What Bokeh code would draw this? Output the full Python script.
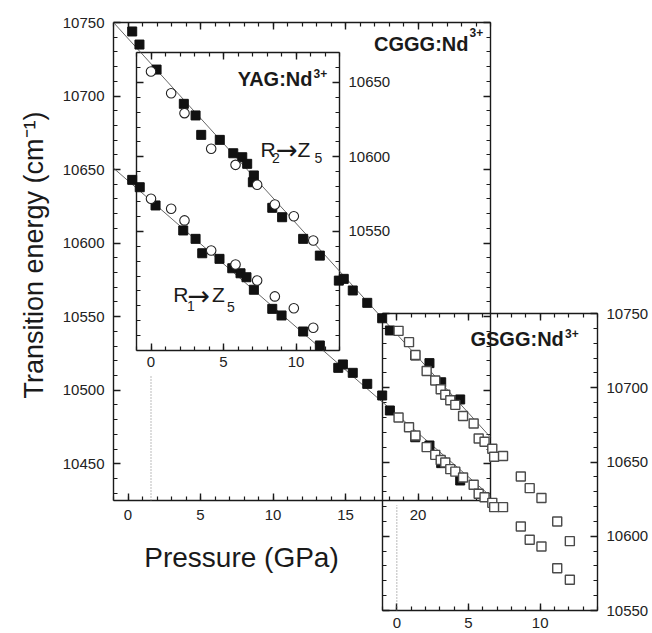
import math
from bokeh.plotting import figure
from bokeh.models import Range1d, LinearAxis, FixedTicker, Label
from bokeh.embed import file_html
from bokeh.resources import INLINE

# ---------------- data ----------------
# CGGG:Nd3+ (main plot, filled squares)
cggg_p_r2 = [0.29, 0.79, 1.97, 3.85, 4.66, 5.05, 6.33, 7.26, 7.88, 8.22, 8.68, 8.61,
             9.95, 10.63, 12.08, 13.23, 14.54, 14.88, 15.50, 16.50, 17.53, 18.06,
             19.81, 20.79, 21.60, 22.91]
cggg_e_r2 = [10743.9, 10735.0, 10718.0, 10694.7, 10686.8, 10673.6, 10670.2, 10661.1,
             10658.4, 10653.9, 10646.0, 10641.4, 10624.0, 10617.6, 10602.9, 10591.5,
             10574.5, 10575.7, 10567.8, 10559.4, 10548.9, 10540.6, 10523.6, 10518.4,
             10505.4, 10493.7]
cggg_p_r1 = [0.29, 0.81, 1.90, 3.81, 4.66, 5.12, 6.31, 7.19, 7.76, 8.17, 8.68, 9.95,
             10.59, 12.08, 13.23, 14.50, 14.82, 15.50, 16.50, 17.53, 18.06, 19.81,
             20.79, 21.60, 22.91]
cggg_e_r1 = [10643.0, 10638.0, 10625.6, 10608.6, 10602.9, 10593.1, 10589.3, 10582.9,
             10579.5, 10576.8, 10568.3, 10555.3, 10550.8, 10539.9, 10530.4, 10515.2,
             10517.5, 10511.8, 10504.3, 10496.4, 10486.2, 10468.0, 10462.4, 10450.4,
             10438.6]
fit_p = [-1, 25]
fit_r2 = [10750, 10468]
fit_r1 = [10651, 10428]

# YAG:Nd3+ (upper-left inset, open circles)
yag_p = [0.0, 1.39, 2.31, 4.15, 5.83, 7.32, 8.54, 9.85, 11.19]
yag_e_r2 = [10657.2, 10642.7, 10629.3, 10605.4, 10594.6, 10581.2, 10568.0, 10560.1, 10543.8]
yag_e_r1 = [10571.8, 10565.1, 10557.3, 10537.1, 10527.7, 10517.0, 10506.3, 10498.4, 10485.3]

# GSGG:Nd3+ (lower-right inset, open squares)
gsgg_p = [0.12, 0.85, 1.30, 2.08, 2.68, 3.06, 3.38, 3.73, 4.08, 4.62, 5.36, 5.71,
          6.12, 6.66, 6.79, 7.41, 8.65, 9.27, 10.09, 11.19, 12.07]
gsgg_e_r2 = [10738.3, 10730.7, 10722.1, 10711.3, 10704.9, 10699.0, 10695.3, 10691.6,
             10688.5, 10681.0, 10675.9, 10665.8, 10663.6, 10658.9, 10653.5, 10654.0,
             10640.2, 10632.4, 10625.8, 10609.9, 10596.7]
gsgg_e_r1 = [10680.0, 10673.4, 10667.8, 10660.0, 10654.8, 10651.3, 10649.7, 10645.2,
             10643.5, 10639.6, 10634.7, 10628.6, 10626.3, 10622.5, 10619.6, 10619.6,
             10606.6, 10597.6, 10593.1, 10578.5, 10570.7]

# tick values
main_x_ticks = [0, 5, 10, 15, 20]
main_y_ticks = [10450, 10500, 10550, 10600, 10650, 10700, 10750]
yag_x_ticks = [0, 5, 10]
yag_y_ticks = [10550, 10600, 10650]
gsgg_x_ticks = [0, 5, 10]
gsgg_y_ticks = [10550, 10600, 10650, 10700, 10750]

# ---------------- layout helpers ----------------
FONT = "Liberation Sans"
INK = "#1a1a1a"
W, H = 652, 633
# the plot frame fills the whole canvas (pixels from top-left)
L, R, T, B = 0, W, 0, H


def span(v0, p0, v1, p1, lo, hi):
    k = (v1 - v0) / (p1 - p0)
    return Range1d(start=v0 + (lo - p0) * k, end=v0 + (hi - p0) * k)


main_x = span(-1, 113, 25, 490, L, R)
main_y = span(10425, 500, 10750, 22, B, T)
yag_x = span(-1, 136, 13, 339, L, R)
yag_y = span(10470, 350, 10670, 52, B, T)
gs_x = span(-1, 382, 14, 597, L, R)
gs_y = span(10550, 610, 10750, 313, B, T)


def mx(px):
    return main_x.start + (px - L) * (main_x.end - main_x.start) / (R - L)


def my(py):
    return main_y.end - (py - T) * (main_y.end - main_y.start) / (B - T)


p = figure(width=W, height=H, x_range=main_x, y_range=main_y,
           x_axis_location=None, y_axis_location=None,
           toolbar_location=None, output_backend="svg",
           min_border_left=0, min_border_right=0,
           min_border_top=0, min_border_bottom=0)
p.extra_x_ranges = {"yag_x": yag_x, "gs_x": gs_x}
p.extra_y_ranges = {"yag_y": yag_y, "gs_y": gs_y}
p.outline_line_color = None
p.grid.visible = False
p.background_fill_color = "white"
p.border_fill_color = "white"


def add_axis(side, xr, yr, fixed, bounds, ticks, minors, labels, standoff=8):
    ax = LinearAxis(x_range_name=xr, y_range_name=yr, fixed_location=fixed,
                    bounds=bounds, ticker=FixedTicker(ticks=ticks, minor_ticks=minors),
                    level="underlay",
                    axis_line_color=INK, axis_line_width=1.4,
                    major_tick_in=7, major_tick_out=0, major_tick_line_width=1.4,
                    major_tick_line_color=INK,
                    minor_tick_in=4, minor_tick_out=0, minor_tick_line_width=1.2,
                    minor_tick_line_color=INK,
                    major_label_text_font=FONT, major_label_text_font_size="15px",
                    major_label_text_color="#222222", major_label_standoff=standoff)
    if not labels:
        ax.major_label_text_color = None
    p.add_layout(ax, side)


def rng(a, b, step):
    out = []
    v = a
    while v <= b + 1e-9:
        out.append(v)
        v += step
    return out


# main CGGG axes
mxm = rng(-1, 25, 1)
mym = rng(10430, 10750, 10)
add_axis("left", "default", "default", -1, (10425, 10750), main_y_ticks, mym, True, 9)
add_axis("right", "default", "default", 25, (10425, 10750), main_y_ticks, mym, False)
add_axis("below", "default", "default", 10425, (-1, 25), main_x_ticks, mxm, True, 9)
add_axis("above", "default", "default", 10750, (-1, 25), main_x_ticks, mxm, False)

# YAG inset axes
yxm = rng(-1, 13, 1)
yym = rng(10480, 10660, 10)
add_axis("left", "yag_x", "yag_y", -1, (10470, 10670), yag_y_ticks, yym, False)
add_axis("right", "yag_x", "yag_y", 13, (10470, 10670), yag_y_ticks, yym, True, 9)
add_axis("below", "yag_x", "yag_y", 10470, (-1, 13), yag_x_ticks, yxm, True, 6)
add_axis("above", "yag_x", "yag_y", 10670, (-1, 13), yag_x_ticks, yxm, False)

# GSGG inset axes
gxm = rng(-1, 14, 1)
gym = rng(10550, 10750, 10)
add_axis("left", "gs_x", "gs_y", -1, (10550, 10750), gsgg_y_ticks, gym, False)
add_axis("right", "gs_x", "gs_y", 14, (10550, 10750), gsgg_y_ticks, gym, True, 9)
add_axis("below", "gs_x", "gs_y", 10550, (-1, 14), gsgg_x_ticks, gxm, True, 7)
add_axis("above", "gs_x", "gs_y", 10750, (-1, 14), gsgg_x_ticks, gxm, False)

# dotted zero markers of the insets
p.segment(x0=[0], y0=[10425], x1=[0], y1=[10510], x_range_name="yag_x",
          line_color="#777777", line_width=1, line_dash="1 2")
p.segment(x0=[0], y0=[10550], x1=[0], y1=[10621], x_range_name="gs_x", y_range_name="gs_y",
          line_color="#777777", line_width=1, line_dash="1 2")

# fitted lines
p.line(fit_p, fit_r2, line_color="#555555", line_width=0.9)
p.line(fit_p, fit_r1, line_color="#555555", line_width=0.9)

# CGGG points
for e, pr in ((cggg_e_r2, cggg_p_r2), (cggg_e_r1, cggg_p_r1)):
    p.scatter(pr, e, marker="square", size=9, fill_color="#111111", line_color="#111111")

# YAG points
for e in (yag_e_r2, yag_e_r1):
    p.scatter(yag_p, e, marker="circle", size=9.5, fill_color="white", line_color="#222222",
              line_width=1.1, x_range_name="yag_x", y_range_name="yag_y")

# GSGG points
for e in (gsgg_e_r2, gsgg_e_r1):
    p.scatter(gsgg_p, e, marker="square", size=9, fill_color="white", line_color="#4a4a4a",
              line_width=1.4, x_range_name="gs_x", y_range_name="gs_y")


# ---------------- texts (anchored at the vertical middle of the letters) ----------------
def text(px, py, s, size, bold=False, align="left", angle=0.0, font=FONT):
    p.add_layout(Label(x=mx(px), y=my(py), text=s, text_font=font,
                       text_font_size=size, text_font_style="bold" if bold else "normal",
                       text_align=align, text_baseline="middle", angle=angle,
                       text_color="#1a1a1a"))


text(468, 43.2, "CGGG:Nd", "20px", bold=True, align="right")
text(469, 31.5, "3+", "12px", bold=True)
text(312, 78.9, "YAG:Nd", "20px", bold=True, align="right")
text(313, 73.0, "3+", "12px", bold=True)
text(563.3, 338, "GSGG:Nd", "20px", bold=True, align="right")
text(564.5, 332.8, "3+", "12px", bold=True)

# R2 -> Z5
text(260, 148.9, "R", "21px")
text(271.5, 157, "2", "14px")
text(275.5, 149, "\u2192", "26px", font="DejaVu Sans")
text(297, 148.9, "Z", "21px")
text(314, 157, "5", "14px")
# R1 -> Z5
text(172.7, 294.3, "R", "21px")
text(186.5, 305.7, "1", "14px")
text(187, 295, "\u2192", "27px", font="DejaVu Sans")
text(211.5, 294.3, "Z", "21px")
text(226.5, 306, "5", "14px")

text(33, 254.5, "Transition energy (cm\u207b\u00b9)", "27px", align="center",
     angle=math.pi / 2)
text(241, 556.7, "Pressure (GPa)", "28px", align="center")

open("out.html", "w").write(file_html(p, INLINE))
